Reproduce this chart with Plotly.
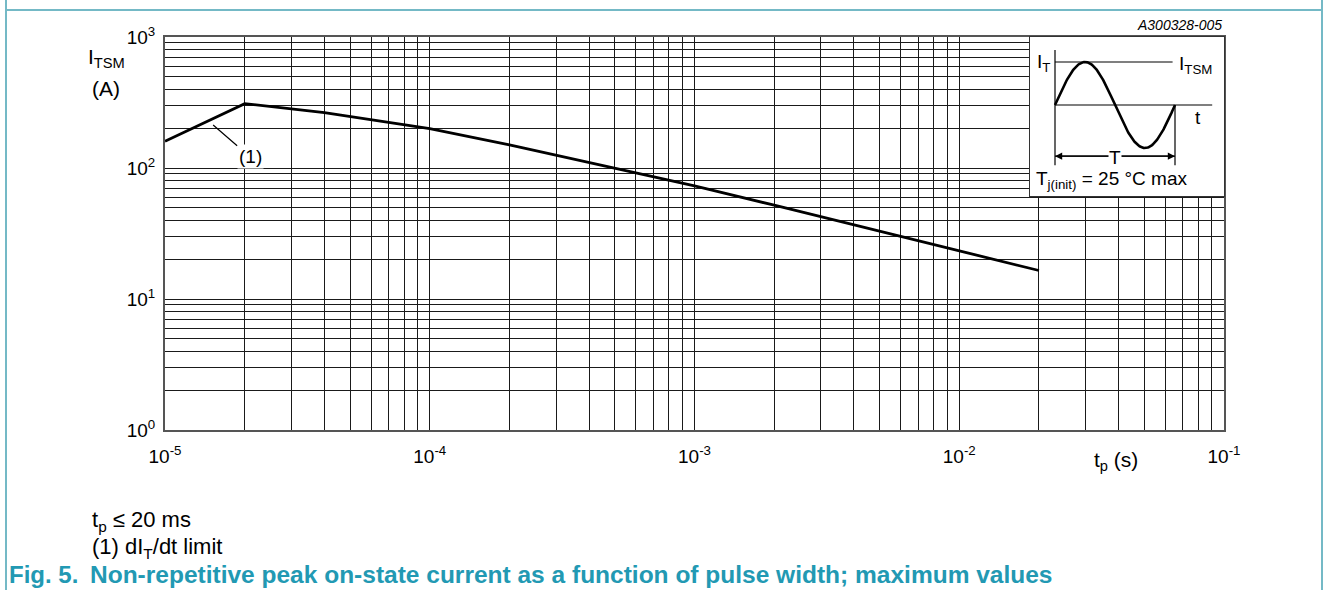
import numpy as np
import plotly.graph_objects as go

# ---- data ----
tp_s = [1e-5, 2e-5, 4e-5, 1e-4, 2e-4, 5e-4, 1e-3, 2e-3, 5e-3, 1e-2, 2e-2]
itsm_a = [160, 310, 265, 200, 150, 100, 73, 52, 33, 23.5, 16.5]

x_decades = [-5, -4, -3, -2, -1]
y_decades = [0, 1, 2, 3]

# tick values / labels (all 1..9 per decade for the grid)
x_tickvals, x_ticktext = [], []
for k in x_decades[:-1]:
    for m in range(1, 10):
        x_tickvals.append(m * 10.0 ** k)
        x_ticktext.append(f"10<sup>{k}</sup>" if m == 1 else "")
x_tickvals.append(10.0 ** x_decades[-1])
x_ticktext.append(f"10<sup>{x_decades[-1]}</sup>")

y_tickvals, y_ticktext = [], []
for k in y_decades[:-1]:
    for m in range(1, 10):
        y_tickvals.append(m * 10.0 ** k)
        y_ticktext.append(f"10<sup>{k}</sup>" if m == 1 else "")
y_tickvals.append(10.0 ** y_decades[-1])
y_ticktext.append(f"10<sup>{y_decades[-1]}</sup>")

# ---- layout geometry (pixels) ----
W, H = 1325, 590
L, R, T, B = 165, 1224, 37, 430


def px(x):
    return (x - L) / (R - L)


def py(y):
    return (B - y) / (B - T)


FONT = "Liberation Sans, Arial, sans-serif"
TEAL_LINE = "#74b9c6"
TEAL_TEXT = "#2299b3"
GRID = "#1a1a1a"

fig = go.Figure()

fig.add_trace(go.Scatter(
    x=tp_s, y=itsm_a, mode="lines",
    line=dict(color="black", width=2.8),
    showlegend=False, hoverinfo="skip",
))

# ---- inset schematic (sine pulse) ----
t_sched = np.linspace(0, 1, 200)
fig.add_trace(go.Scatter(
    x=t_sched, y=np.sin(2 * np.pi * t_sched), mode="lines",
    line=dict(color="black", width=2.6),
    xaxis="x2", yaxis="y2", showlegend=False, hoverinfo="skip",
))
inset_lines = [
    ([0, 0], [-1.4, 1.28]),
    ([0, 0.98], [1, 1]),
    ([0, 1.31], [0, 0]),
    ([1, 1], [0, -1.4]),
    ([0, 1], [-1.19, -1.19]),
]
for xs, ys in inset_lines:
    fig.add_trace(go.Scatter(
        x=xs, y=ys, mode="lines", line=dict(color="black", width=1.2),
        xaxis="x2", yaxis="y2", showlegend=False, hoverinfo="skip",
    ))

fig.update_layout(
    width=W, height=H,
    margin=dict(l=L, r=W - R, t=T, b=H - B),
    paper_bgcolor="white", plot_bgcolor="white",
    font=dict(family=FONT, size=20, color="black"),
    xaxis=dict(
        type="log", range=[-5, -1],
        tickvals=x_tickvals, ticktext=x_ticktext,
        showgrid=True, gridcolor=GRID, gridwidth=1,
        showline=True, linecolor="#555", linewidth=2, mirror=True,
        ticks="", ticklabelstandoff=8, zeroline=False,
        tickfont=dict(size=19),
    ),
    yaxis=dict(
        type="log", range=[0, 3],
        tickvals=y_tickvals, ticktext=y_ticktext,
        showgrid=True, gridcolor=GRID, gridwidth=1,
        showline=True, linecolor="#555", linewidth=2, mirror=True,
        ticks="", ticklabelstandoff=4, zeroline=False,
        tickfont=dict(size=19),
    ),
    xaxis2=dict(
        domain=[px(1030), 1.0], range=[-25 / 120, 169 / 120], anchor="y2",
        showgrid=False, showticklabels=False, zeroline=False, ticks="",
        showline=True, mirror=True, linecolor="#333", linewidth=1,
    ),
    yaxis2=dict(
        domain=[py(196), 1.0], range=[-91 / 43, 68 / 43], anchor="x2",
        showgrid=False, showticklabels=False, zeroline=False, ticks="",
        showline=True, mirror=True, linecolor="#333", linewidth=1,
    ),
)

ann = []


def text(x, y, s, xanchor="center", size=16, color="black", **kw):
    ann.append(dict(x=px(x), y=py(y), xref="paper", yref="paper", text=s,
                    showarrow=False, xanchor=xanchor, yanchor="middle",
                    font=dict(size=size, color=color, family=FONT), **kw))


text(106, 58, "I<sub>TSM</sub>", size=21)
text(106, 88, "(A)", size=21)
text(1116, 461, "t<sub>p</sub> (s)", size=21)
text(1224, 25, "<i>A300328-005</i>", xanchor="right", size=14)
text(90, 521, "t<sub>p</sub> ≤ 20 ms", xanchor="left", size=22)
text(90, 548, "(1) dI<sub>T</sub>/dt limit", xanchor="left", size=22)
text(7, 574, "<b>Fig. 5.</b>", xanchor="left", size=24, color=TEAL_TEXT)
text(88, 574, "<b>Non-repetitive peak on-state current as a function of pulse width; maximum values</b>",
     xanchor="left", size=24.5, color=TEAL_TEXT)

# (1) callout on the curve
ann.append(dict(x=np.log10(1.52e-5), y=np.log10(213), xref="x", yref="y",
                text="(1)", showarrow=True, arrowhead=0, arrowwidth=1.2,
                arrowcolor="black", ax=37, ay=32, standoff=0,
                font=dict(size=19, family=FONT, color="black"),
                bgcolor="white"))

# inset labels
def itext(x, y, s, xanchor="center", size=19, **kw):
    ann.append(dict(x=x, y=y, xref="x2", yref="y2", text=s, showarrow=False,
                    xanchor=xanchor, yanchor="middle",
                    font=dict(size=size, family=FONT, color="black"), **kw))


for head in (0.0, 1.0):
    ann.append(dict(x=head, y=-1.19, xref="x2", yref="y2", ax=0.5, ay=-1.19,
                    axref="x2", ayref="y2", text="", showarrow=True,
                    arrowhead=2, arrowsize=1.2, arrowwidth=1.2,
                    arrowcolor="black", standoff=0))
itext(-0.165, 0.98, "I<sub>T</sub>", xanchor="left")
itext(1.015, 0.93, "I<sub>TSM</sub>", xanchor="left")
itext(1.19, -0.3, "t")
itext(-0.175, -1.74, "T<sub>j(init)</sub> = 25 °C max", xanchor="left")
itext(0.5, -1.22, "T", bgcolor="white", borderpad=0)

fig.update_layout(annotations=ann)

# frame (teal table lines)
shapes = [
    dict(type="line", xref="paper", yref="paper", x0=px(6), x1=px(6), y0=py(-5), y1=py(600),
         line=dict(color=TEAL_LINE, width=2)),
    dict(type="line", xref="paper", yref="paper", x0=px(1322), x1=px(1322), y0=py(-5), y1=py(600),
         line=dict(color=TEAL_LINE, width=2)),
    dict(type="line", xref="paper", yref="paper", x0=px(6), x1=px(1322), y0=py(10), y1=py(10),
         line=dict(color=TEAL_LINE, width=2)),
]
fig.update_layout(shapes=shapes)

fig.write_html("out.html")
